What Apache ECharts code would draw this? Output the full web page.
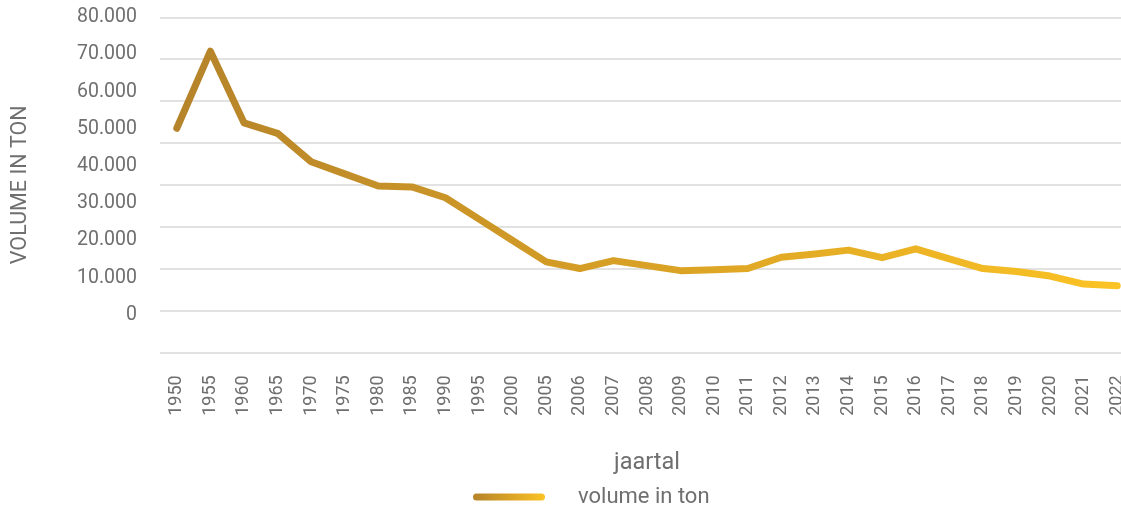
<!DOCTYPE html>
<html>
<head>
<meta charset="utf-8">
<script src="https://cdn.jsdelivr.net/npm/echarts@6/dist/echarts.min.js"></script>
<style>
  html, body { margin: 0; padding: 0; background: #ffffff; overflow: hidden; }
  #chart { width: 1121px; height: 506px; }
</style>
</head>
<body>
<div id="chart"></div>
<script>
const categories = ['1950','1955','1960','1965','1970','1975','1980','1985','1990','1995','2000','2005','2006','2007','2008','2009','2010','2011','2012','2013','2014','2015','2016','2017','2018','2019','2020','2021','2022'];
const volumeTon = [53500, 71900, 54800, 52300, 45500, 42600, 39700, 39500, 36900, 31800, 26700, 21600, 20000, 21900, 20700, 19500, 19700, 20000, 22700, 23500, 24400, 22600, 24700, 22300, 20000, 19300, 18200, 16300, 15900];
const yTickLabels = ['0','10.000','20.000','30.000','40.000','50.000','60.000','70.000','80.000'];
const seriesName = 'volume in ton';
const xAxisTitle = 'jaartal';
const yAxisTitle = 'VOLUME IN TON';

const FONT = 'Roboto, "Noto Sans", sans-serif';
const GREY = '#6f6f6f';
function makeGradient() {
  return new echarts.graphic.LinearGradient(0, 0, 1, 0, [
    { offset: 0, color: '#B5832A' },
    { offset: 0.5, color: '#D9A125' },
    { offset: 1, color: '#FBC324' }
  ]);
}

const chart = echarts.init(document.getElementById('chart'), null, { renderer: 'canvas' });
chart.setOption({
  animation: false,
  backgroundColor: '#ffffff',
  textStyle: { fontFamily: FONT },
  grid: [
    { left: 160, width: 974, top: 17.3, bottom: 153.7, outerBoundsMode: 'none', containLabel: false },
    { left: 160, width: 974, top: 17.3, height: 297.7, outerBoundsMode: 'none', containLabel: false }
  ],
  xAxis: [
    {
      type: 'category',
      gridIndex: 0,
      data: categories,
      boundaryGap: true,
      axisLine: { show: false },
      axisTick: { show: false },
      axisLabel: { rotate: 90, margin: 23, color: GREY, fontSize: 18, fontFamily: FONT, interval: 0 },
      name: xAxisTitle,
      nameLocation: 'middle',
      nameGap: 99,
      nameTextStyle: { color: GREY, fontSize: 23.5, fontFamily: FONT }
    },
    {
      type: 'category',
      gridIndex: 1,
      data: categories,
      show: false
    }
  ],
  yAxis: [
    {
      type: 'value',
      gridIndex: 0,
      min: 0,
      max: 80000,
      interval: 10000,
      axisLine: { show: false },
      axisTick: { show: false },
      axisLabel: { show: false },
      splitLine: { show: true, lineStyle: { color: '#d9d9d9', width: 1.5 } },
      name: yAxisTitle,
      nameLocation: 'middle',
      nameRotate: 90,
      nameGap: 128,
      nameTextStyle: { color: GREY, fontSize: 21.5, fontFamily: FONT }
    },
    {
      type: 'value',
      gridIndex: 1,
      min: 0,
      max: 80000,
      interval: 10000,
      axisLine: { show: false },
      axisTick: { show: false },
      splitLine: { show: false },
      axisLabel: {
        margin: 23,
        color: GREY,
        fontSize: 19.5,
        fontFamily: FONT,
        formatter: function (v) { return yTickLabels[Math.round(v / 10000)]; }
      }
    }
  ],
  legend: {
    left: 468,
    top: 481,
    itemWidth: 72,
    itemHeight: 7,
    textStyle: { color: GREY, fontSize: 22, fontFamily: FONT, padding: [0, 0, 0, 28] },
    data: [{
      name: seriesName,
      icon: 'path://M3.5,0 L68.5,0 A3.5,3.5 0 0 1 68.5,7 L3.5,7 A3.5,3.5 0 0 1 3.5,0 Z',
      itemStyle: { color: makeGradient(), borderWidth: 0 }
    }]
  },
  series: [
    {
      name: seriesName,
      type: 'line',
      xAxisIndex: 0,
      yAxisIndex: 0,
      data: volumeTon,
      symbol: 'none',
      smooth: false,
      lineStyle: { width: 7, color: makeGradient(), cap: 'round', join: 'round' },
      itemStyle: { color: '#D9A125' }
    }
  ]
});
</script>
</body>
</html>
